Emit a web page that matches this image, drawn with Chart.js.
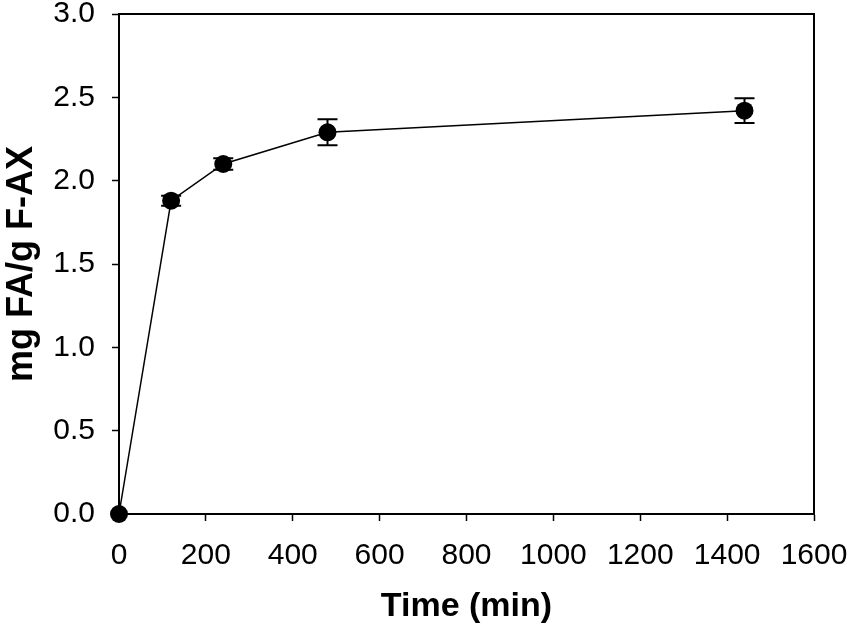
<!DOCTYPE html>
<html>
<head>
<meta charset="utf-8">
<script src="https://cdn.jsdelivr.net/npm/chart.js@4.4.1/dist/chart.umd.min.js"></script>
<style>
    html, body { margin: 0; padding: 0; background: #fff; }
    #wrap { width: 851px; height: 632px; }
</style>
</head>
<body>
<div id="wrap"><canvas id="faChart"></canvas></div>
<script>
// data
const timeMin = [0, 120, 240, 480, 1440];
const faYield = [0, 1.88, 2.10, 2.29, 2.42];
const faError = [0, 0.03, 0.035, 0.078, 0.074];

const xRange = [0, 1600];
const xStep = 200;
const yRange = [0, 3.0];
const yStep = 0.5;

const xTitle = 'Time (min)';
const yTitle = 'mg FA/g F-AX';

const FONT = "'Liberation Sans', Arial, sans-serif";

// vertical error bars with caps
const errorBars = {
    id: 'errorBars',
    beforeDatasetsDraw: (chart) => {
        const { ctx, scales: { x, y } } = chart;
        ctx.save();
        ctx.strokeStyle = '#000';
        ctx.lineWidth = 2;
        timeMin.forEach((t, i) => {
            const err = faError[i];
            if (!err) return;
            const px = x.getPixelForValue(t);
            const top = y.getPixelForValue(faYield[i] + err);
            const bot = y.getPixelForValue(faYield[i] - err);
            ctx.beginPath();
            ctx.moveTo(px, top); ctx.lineTo(px, bot);
            ctx.moveTo(px - 10, top); ctx.lineTo(px + 10, top);
            ctx.moveTo(px - 10, bot); ctx.lineTo(px + 10, bot);
            ctx.stroke();
        });
        ctx.restore();
    }
};

// box around the plot area
const frame = {
    id: 'frame',
    afterDraw: (chart) => {
        const { ctx, chartArea: a } = chart;
        ctx.save();
        ctx.strokeStyle = '#000';
        ctx.lineWidth = 2;
        ctx.strokeRect(a.left, a.top, a.right - a.left, a.bottom - a.top);
        ctx.restore();
    }
};

new Chart(document.getElementById('faChart'), {
    type: 'line',
    data: {
        datasets: [{
            data: timeMin.map((t, i) => ({ x: t, y: faYield[i] })),
            borderColor: '#000',
            borderWidth: 1.5,
            tension: 0,
            pointRadius: 9,
            pointHoverRadius: 9,
            pointBackgroundColor: '#000',
            pointBorderColor: '#000',
            pointBorderWidth: 0,
            clip: false
        }]
    },
    options: {
        responsive: true,
        maintainAspectRatio: false,
        animation: false,
        devicePixelRatio: 1,
        layout: { padding: { top: 14, right: 37, left: 0, bottom: 0 } },
        plugins: { legend: { display: false }, tooltip: { enabled: false } },
        scales: {
            x: {
                type: 'linear',
                min: xRange[0],
                max: xRange[1],
                ticks: { stepSize: xStep, color: '#000', padding: 17, font: { family: FONT, size: 30 },
                    callback: (v) => String(v) },
                grid: { drawOnChartArea: false, tickLength: 7, tickWidth: 1.5, tickColor: '#000' },
                border: { color: '#000', width: 2 },
                title: { display: true, text: xTitle, color: '#000', padding: { bottom: 5 }, font: { family: FONT, size: 34, weight: 'bold' } },
                afterFit: (s) => { s.height = 118; s.paddingLeft = 0; s.paddingRight = 0; }
            },
            y: {
                min: yRange[0],
                max: yRange[1],
                ticks: { stepSize: yStep, color: '#000', padding: 17, font: { family: FONT, size: 30 },
                    callback: (v) => v.toFixed(1) },
                grid: { drawOnChartArea: false, tickLength: 7, tickWidth: 1.5, tickColor: '#000' },
                border: { color: '#000', width: 2 },
                title: { display: true, text: yTitle, color: '#000', padding: { top: 0 }, font: { family: FONT, size: 36, weight: 'bold' } },
                afterFit: (s) => { s.width = 119; s.paddingTop = 0; s.paddingBottom = 0; }
            }
        }
    },
    plugins: [errorBars, frame]
});
</script>
</body>
</html>
